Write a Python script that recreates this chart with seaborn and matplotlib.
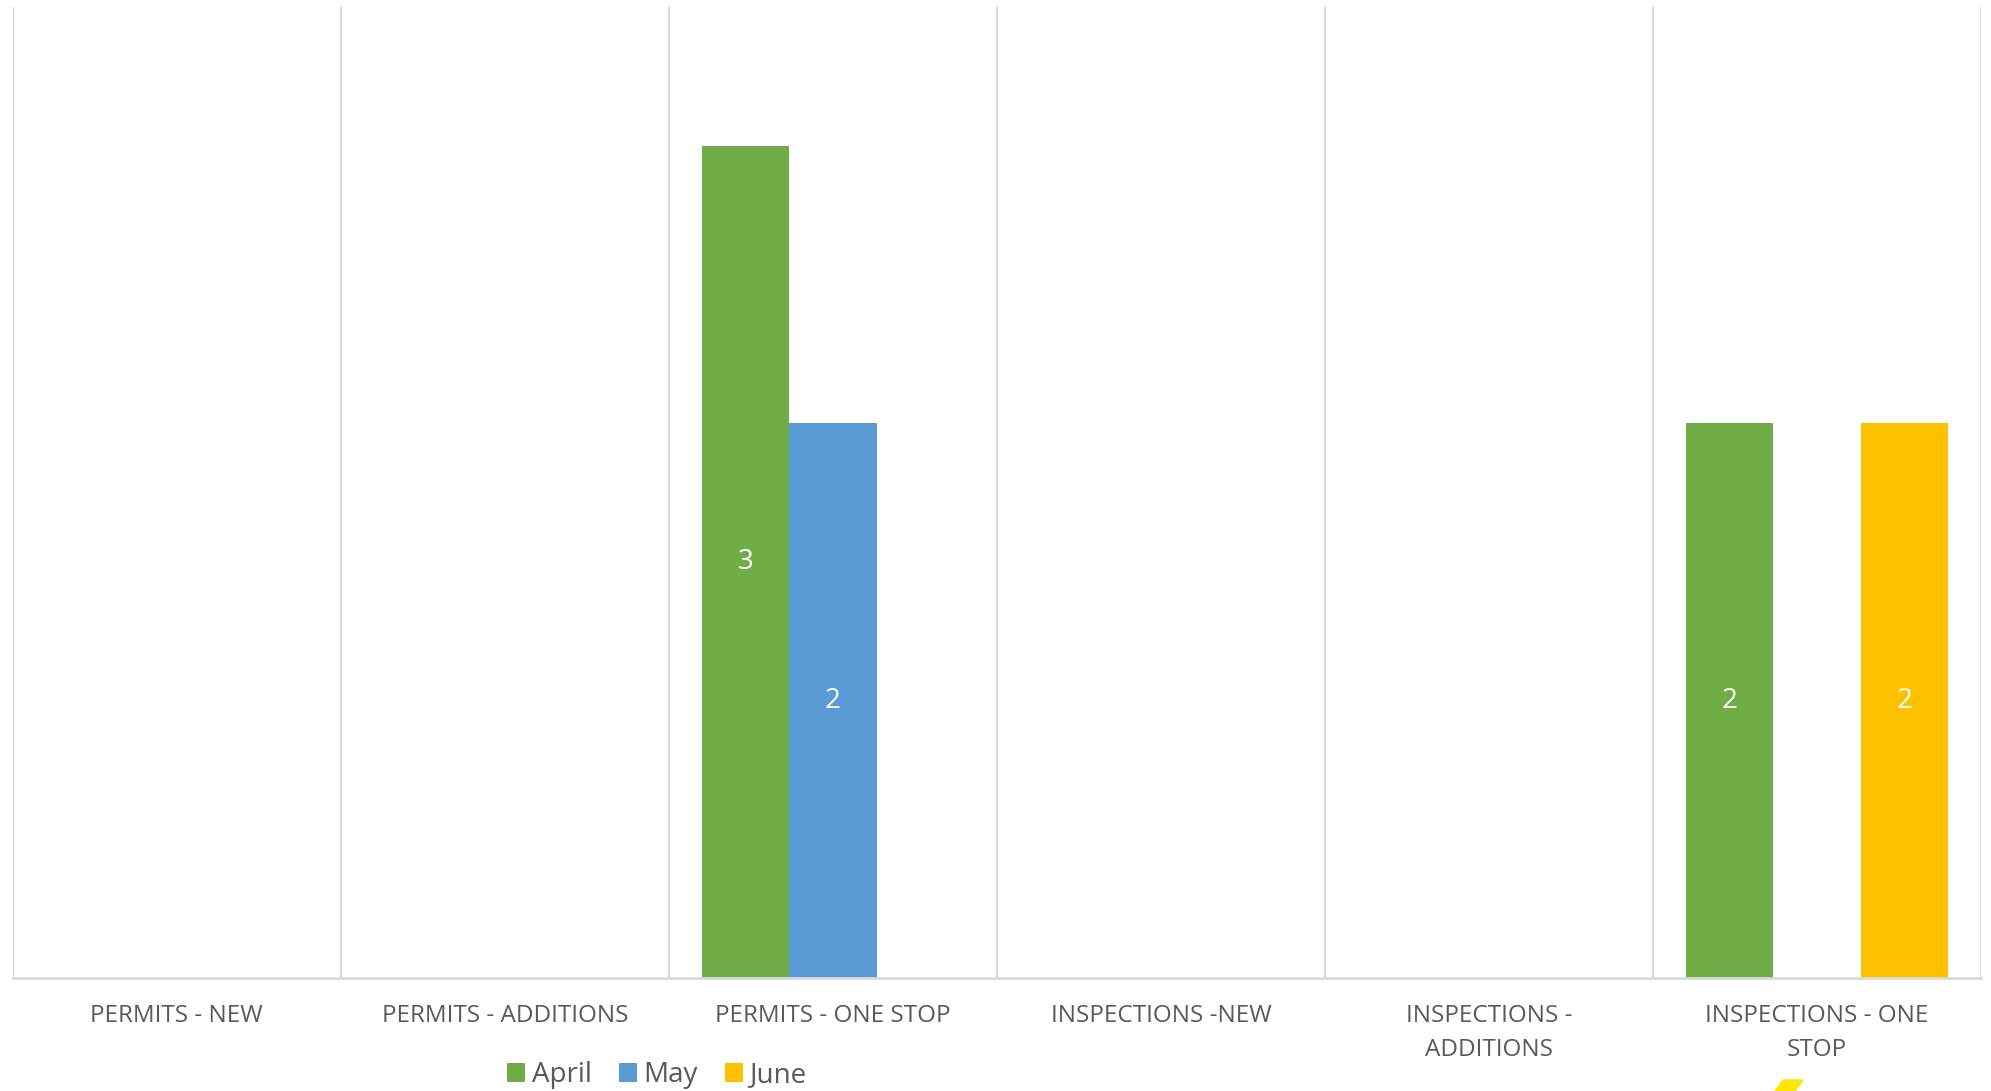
import matplotlib
matplotlib.use("Agg")
import matplotlib.pyplot as plt
from matplotlib.patches import Polygon
import seaborn as sns
import pandas as pd

categories = ["PERMITS - NEW", "PERMITS - ADDITIONS", "PERMITS - ONE STOP",
              "INSPECTIONS -NEW", "INSPECTIONS -\nADDITIONS", "INSPECTIONS - ONE\nSTOP"]
months = ["April", "May", "June"]
april = [0, 0, 3, 0, 0, 2]
may = [0, 0, 2, 0, 0, 0]
june = [0, 0, 0, 0, 0, 2]
colors = ["#70AD47", "#5B9BD5", "#FFC000"]

rows = []
for m, vals in zip(months, [april, may, june]):
    for c, v in zip(categories, vals):
        rows.append({"category": c, "month": m, "value": v})
df = pd.DataFrame(rows)

sns.set_theme(style="white")
plt.rcParams['font.family'] = ['Open Sans', 'DejaVu Sans']

W, H = 1991, 1091
fig = plt.figure(figsize=(W / 100, H / 100), dpi=100)
ax = fig.add_axes([12.7 / W, 1 - 978 / H, (1981 - 12.7) / W, (978 - 7) / H])

sns.barplot(data=df, x="category", y="value", hue="month", order=categories,
            hue_order=months, palette=colors, width=0.8, saturation=1,
            linewidth=0, ax=ax, legend=True)

for cont in ax.containers:
    labels = [f"{int(b.get_height())}" if b.get_height() > 0 else "" for b in cont]
    ax.bar_label(cont, labels=labels, label_type="center", color="white", fontsize=20)

ax.set_ylim(0, 3.5)
ax.set_xlim(-0.5, len(categories) - 0.5)
ax.set_yticks([])
ax.set_xlabel("")
ax.set_ylabel("")
for x in [i - 0.5 for i in range(len(categories) + 1)]:
    ax.axvline(x, color="#D9D9D9", linewidth=1.5, zorder=0)
for s in ["top", "left", "right"]:
    ax.spines[s].set_visible(False)
ax.spines["bottom"].set_color("#D9D9D9")
ax.spines["bottom"].set_linewidth(2)
ax.tick_params(axis="x", length=0, pad=19, labelsize=17.5, labelcolor="#595959")
for t in ax.get_xticklabels():
    t.set_linespacing(1.55)
    t.set_verticalalignment("top")

leg = ax.legend(loc="center", bbox_to_anchor=(657 / W, 1 - 1075 / H),
                bbox_transform=fig.transFigure, ncol=3, frameon=False,
                fontsize=20, handlelength=0.65, handleheight=0.65,
                handletextpad=0.25, columnspacing=0.95)
for t in leg.get_texts():
    t.set_color("#595959")

poly = Polygon([[1783 / W, 1 - 1080 / H], [1803 / W, 1 - 1080 / H],
                [1795 / W, 0], [1775 / W, 0]], closed=True,
               transform=fig.transFigure, color="#FFE500")
fig.patches.append(poly)

fig.savefig("out.png", dpi=100)
